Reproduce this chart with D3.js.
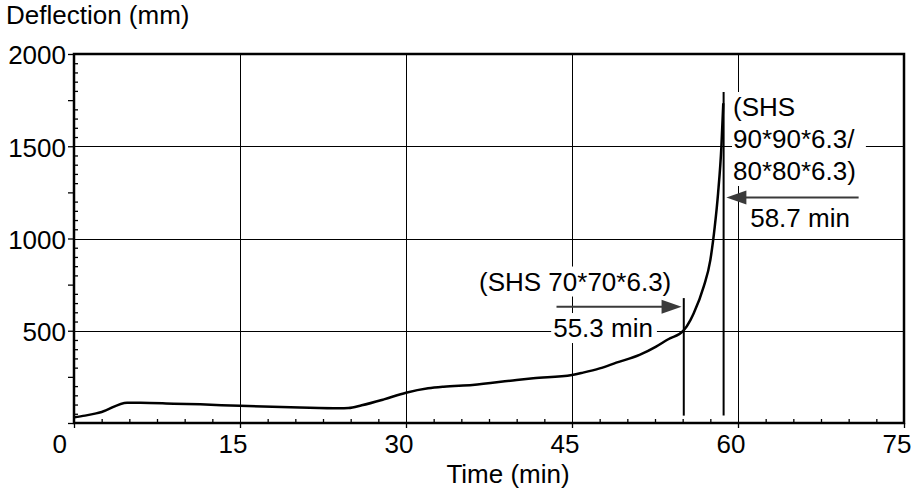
<!DOCTYPE html>
<html>
<head>
<meta charset="utf-8">
<script src="https://cdn.jsdelivr.net/npm/d3@7"></script>
<style>
  body { margin: 0; background: #fff; }
  svg text { font-family: "Liberation Sans", Arial, sans-serif; fill: #000; }
</style>
</head>
<body>
<div id="chart"></div>
<script>
// deflection curve
const timeMin = [0, 1, 2, 2.5, 4.8, 6, 9, 11.4, 15, 20.4, 24, 24.8, 26, 28, 30, 32, 33.4, 36, 40, 41.5, 45, 46, 47.5, 49, 51.1, 52.6, 53.7, 55.05, 55.7, 56, 56.9, 57.5, 57.9, 58.2, 58.5, 58.67];
const deflection = [31, 40, 52, 60, 110, 110, 105, 101, 93, 84, 80, 81, 96, 128, 164, 188, 197, 206, 233, 242, 260, 273, 296, 327, 369, 414, 454, 499, 558, 595, 739, 883, 1064, 1245, 1498, 1733];

// failure markers
const failTimes = [55.1, 58.7];
const failTops = [677, 1794];
const failBottom = 40;

const xTicks = [0, 15, 30, 45, 60, 75];
const yTicks = [500, 1000, 1500, 2000];

const width = 913, height = 491;
const plot = { left: 74, right: 904, top: 54, bottom: 423 };
const fontSize = '26px';

const svg = d3.select('#chart').append('svg')
    .attr('width', width)
    .attr('height', height);

const x = d3.scaleLinear().domain([0, 75]).range([plot.left, plot.right]);
const y = d3.scaleLinear().domain([0, 2000]).range([plot.bottom, plot.top]);

// grid
svg.append('g').selectAll('line').data(xTicks.filter(d => d > 0 && d < 75)).enter()
    .append('line')
    .attr('x1', d => Math.round(x(d)) + 0.5).attr('x2', d => Math.round(x(d)) + 0.5)
    .attr('y1', plot.top).attr('y2', plot.bottom + 5)
    .attr('stroke', '#000').attr('stroke-width', 1);
svg.append('g').selectAll('line').data(yTicks.filter(d => d < 2000)).enter()
    .append('line')
    .attr('x1', plot.left).attr('x2', plot.right)
    .attr('y1', d => Math.round(y(d)) + 0.5).attr('y2', d => Math.round(y(d)) + 0.5)
    .attr('stroke', '#000').attr('stroke-width', 1);

// minor ticks inside
const xMinor = d3.range(2.5, 75, 2.5).filter(d => d % 15 !== 0);
svg.append('g')
    .attr('transform', `translate(0,${plot.bottom})`)
    .call(d3.axisTop(x).tickValues(xMinor).tickSize(4).tickFormat(''))
    .call(g => g.select('.domain').remove())
    .selectAll('line').attr('stroke-width', 1.3);

const yMinor = d3.range(50, 2000, 50).filter(d => d % 250 !== 0);
svg.append('g')
    .attr('transform', `translate(${plot.left},0)`)
    .call(d3.axisRight(y).tickValues(yMinor).tickSize(4).tickFormat(''))
    .call(g => g.select('.domain').remove())
    .selectAll('line').attr('stroke-width', 1.3);

// outer ticks on y at every 250
svg.append('g')
    .attr('transform', `translate(${plot.left},0)`)
    .call(d3.axisLeft(y).tickValues(d3.range(0, 2001, 250)).tickSize(6).tickFormat(''))
    .call(g => g.select('.domain').remove())
    .selectAll('line').attr('stroke-width', 1.3);

// y labels
const yAxis = svg.append('g')
    .attr('transform', `translate(${plot.left},0)`)
    .call(d3.axisLeft(y).tickValues(yTicks).tickSize(0).tickPadding(8).tickFormat(d3.format('d')))
    .call(g => g.select('.domain').remove());
yAxis.selectAll('text')
    .attr('dy', '0.38em')
    .style('font-size', fontSize);

// x labels
const xAxis = svg.append('g')
    .attr('transform', `translate(0,${plot.bottom})`)
    .call(d3.axisBottom(x).tickValues(xTicks).tickSize(5))
    .call(g => g.select('.domain').remove());
xAxis.selectAll('line').attr('stroke-width', 1.3);
xAxis.selectAll('text')
    .attr('text-anchor', 'start')
    .attr('x', -22)
    .attr('y', 30)
    .attr('dy', null)
    .style('font-size', fontSize);

// frame
svg.append('rect')
    .attr('x', plot.left).attr('y', plot.top)
    .attr('width', plot.right - plot.left).attr('height', plot.bottom - plot.top)
    .attr('fill', 'none').attr('stroke', '#000').attr('stroke-width', 2.5);

// curve
const pts = timeMin.map((t, i) => [t, deflection[i]]);
const line = d3.line()
    .x(d => x(d[0]))
    .y(d => y(d[1]))
    .curve(d3.curveMonotoneX);
svg.append('path')
    .datum(pts)
    .attr('fill', 'none')
    .attr('stroke', '#000')
    .attr('stroke-width', 2.5)
    .attr('stroke-linejoin', 'round')
    .attr('d', line);

// failure lines
svg.append('g').selectAll('line').data(failTimes).enter()
    .append('line')
    .attr('x1', d => x(d)).attr('x2', d => x(d))
    .attr('y1', y(failBottom)).attr('y2', (d, i) => y(failTops[i]))
    .attr('stroke', '#000').attr('stroke-width', 2);

// labels with white boxes
function boxedText(lines, tx, ty, padL, padR, lh) {
    const g = svg.append('g');
    const rect = g.append('rect').attr('fill', '#fff');
    const t = g.append('text')
        .attr('x', x(tx)).attr('y', y(ty))
        .style('font-size', fontSize);
    lines.forEach((s, i) => {
        t.append('tspan').attr('x', x(tx)).attr('dy', i === 0 ? 0 : lh).text(s);
    });
    const b = t.node().getBBox();
    rect.attr('x', b.x - padL).attr('y', b.y)
        .attr('width', b.width + padL + padR).attr('height', b.height);
}

boxedText(['(SHS 70*70*6.3)'], 36.6, 718, 2, 2, 0);
boxedText(['55.3 min'], 43.3, 466, 2, 4, 0);
boxedText(['(SHS', '90*90*6.3/', '80*80*6.3)'], 59.55, 1664, 1, 10, 32);
boxedText(['58.7 min'], 61.1, 1062, 2, 2, 0);

// arrows
const arrows = [
    { from: 43.6, to: 54.9, at: 630 },
    { from: 70.9, to: 58.95, at: 1222 }
];
arrows.forEach(a => {
    const dir = a.to > a.from ? 1 : -1;
    const tip = x(a.to), yy = y(a.at);
    svg.append('line')
        .attr('x1', x(a.from)).attr('x2', tip - dir * 18)
        .attr('y1', yy).attr('y2', yy)
        .attr('stroke', '#3a3a3a').attr('stroke-width', 2);
    svg.append('path')
        .attr('d', `M${tip},${yy} L${tip - dir * 20},${yy - 7} L${tip - dir * 20},${yy + 7} Z`)
        .attr('fill', '#3a3a3a');
});

// axis titles
svg.append('text')
    .attr('x', 6).attr('y', 24)
    .style('font-size', fontSize)
    .text('Deflection (mm)');
svg.append('text')
    .attr('x', 508).attr('y', 483)
    .attr('text-anchor', 'middle')
    .style('font-size', fontSize)
    .text('Time (min)');
</script>
</body>
</html>
